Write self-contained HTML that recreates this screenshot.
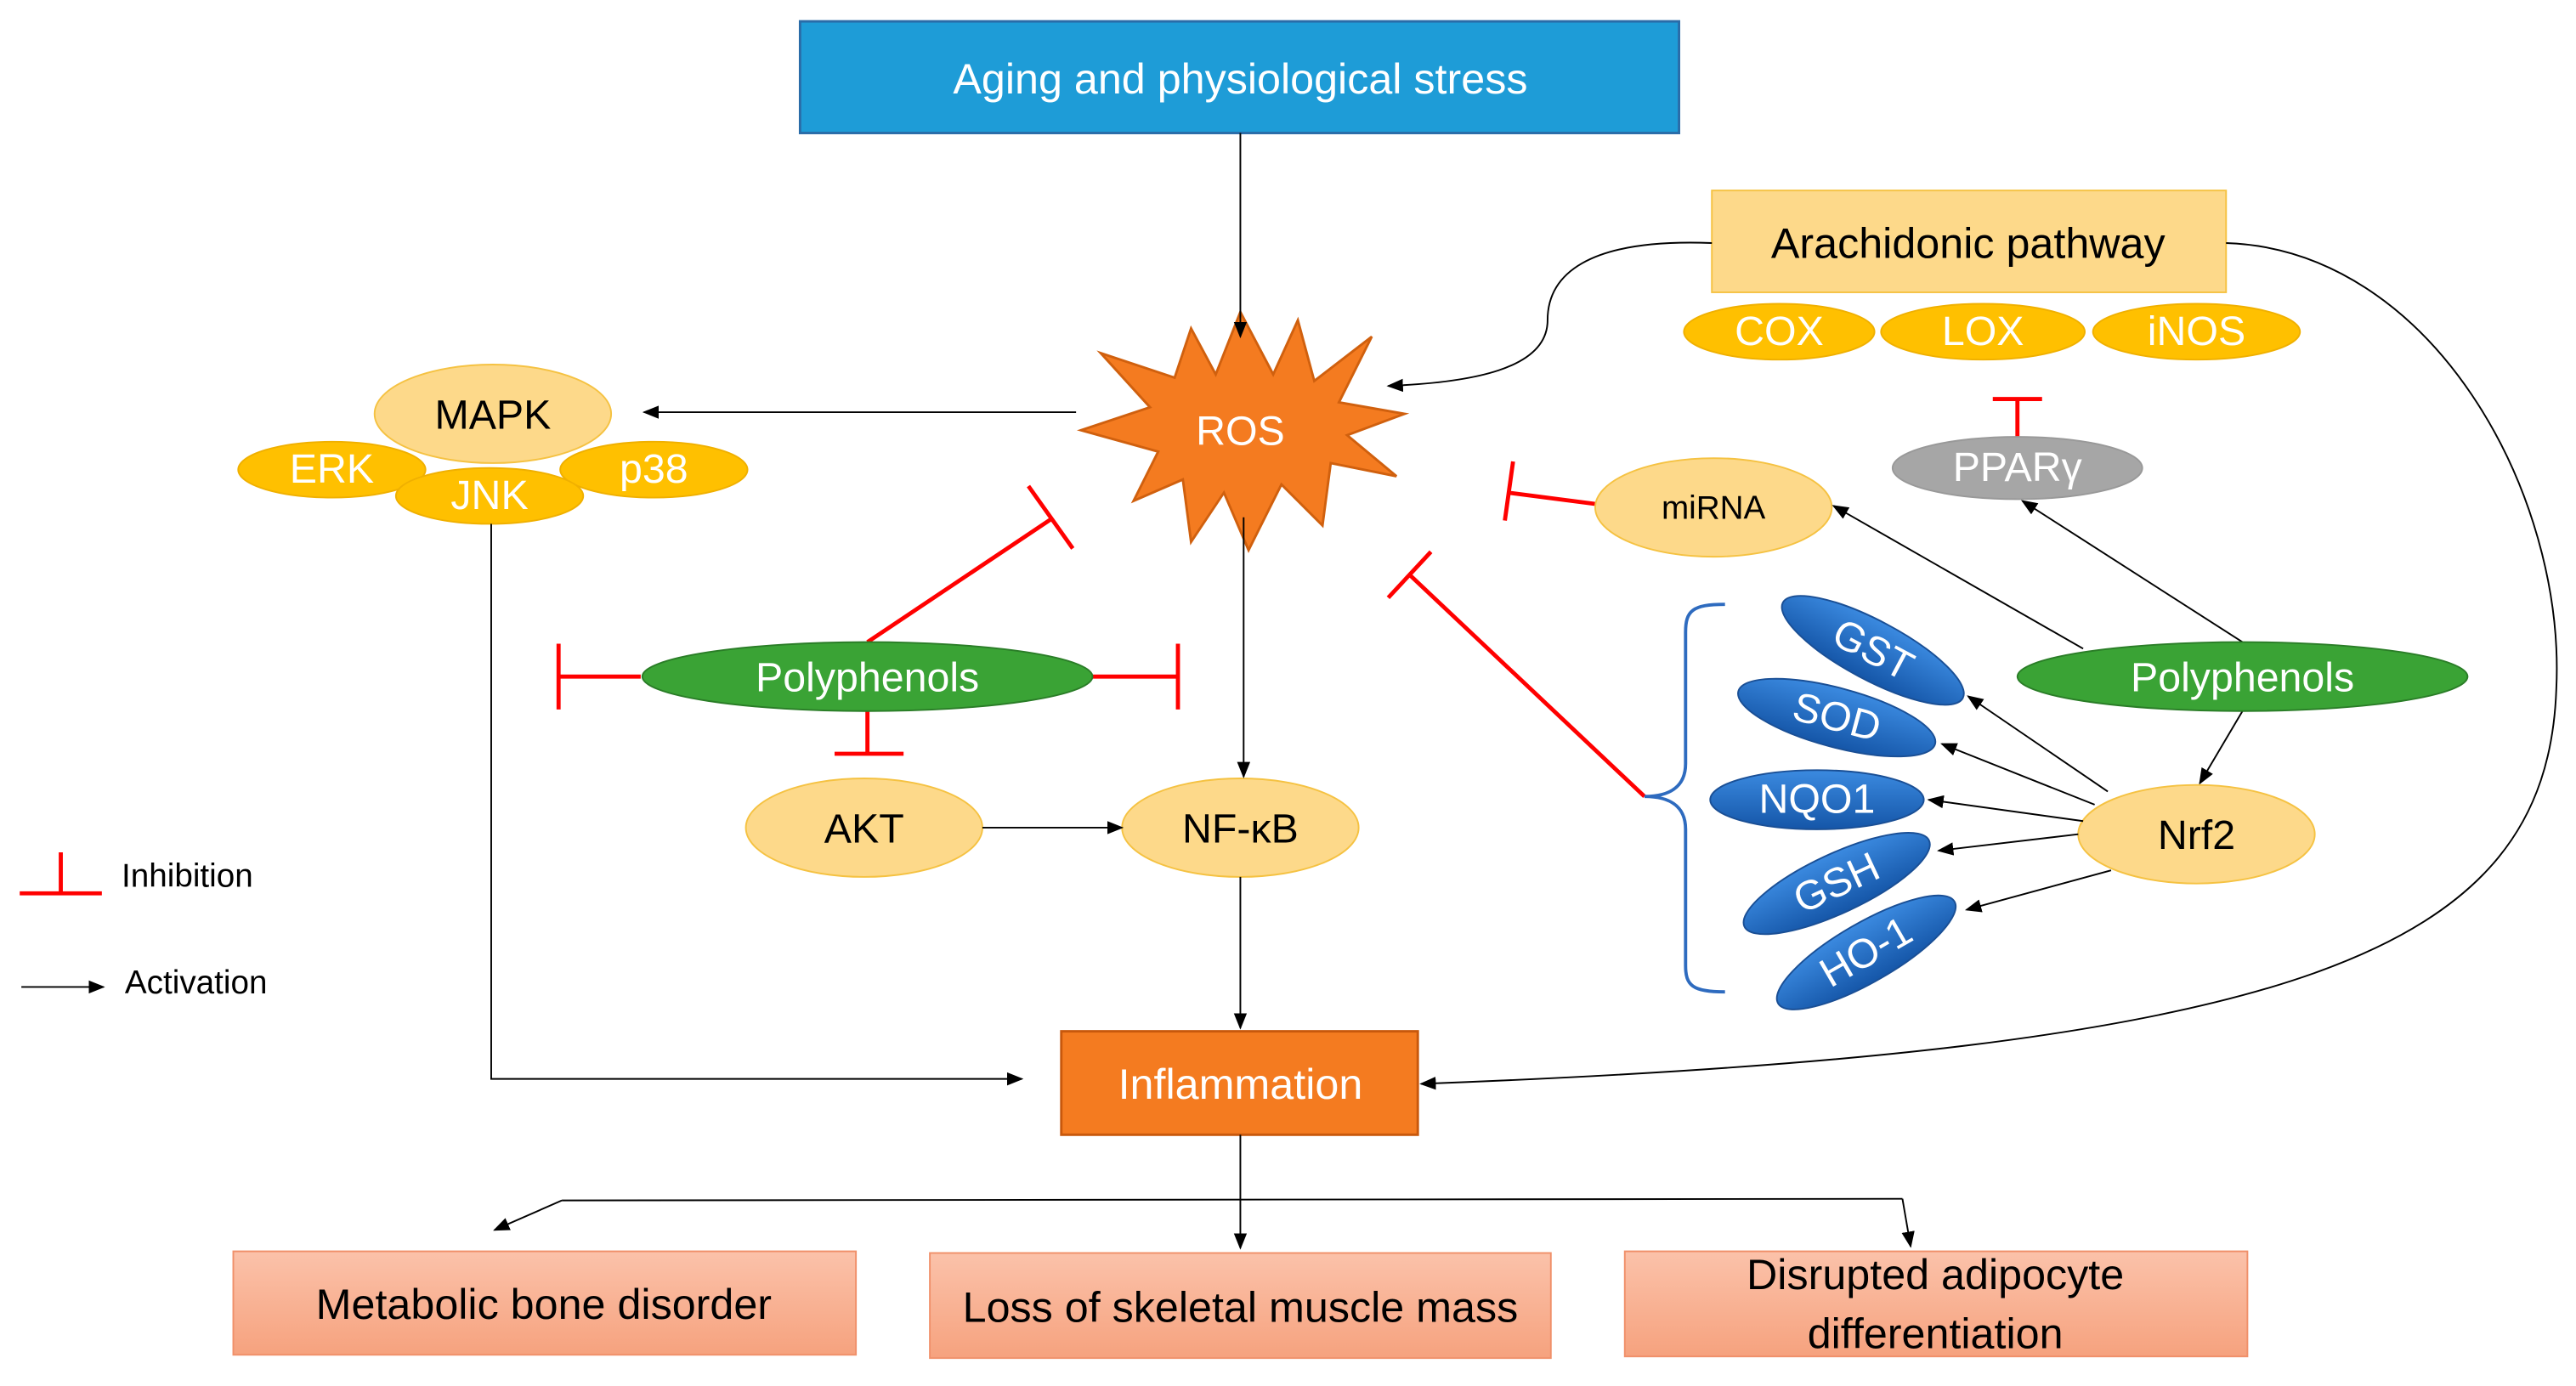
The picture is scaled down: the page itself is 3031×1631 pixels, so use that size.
<!DOCTYPE html>
<html><head><meta charset="utf-8"><style>
html,body{margin:0;padding:0;background:#fff;}
svg{display:block;}
text{font-family:"Liberation Sans",sans-serif;}
</style></head><body>
<svg width="3031" height="1631" viewBox="0 0 1568 844" preserveAspectRatio="none" xmlns="http://www.w3.org/2000/svg">
<defs>
<marker id="ar" markerWidth="10" markerHeight="8" refX="9" refY="4" orient="auto" markerUnits="userSpaceOnUse"><path d="M0,0 L10,4 L0,8 z" fill="#000"/></marker>
<linearGradient id="bl" x1="0" y1="0" x2="0" y2="1"><stop offset="0" stop-color="#3b8ae0"/><stop offset="1" stop-color="#1556a8"/></linearGradient>
<linearGradient id="sal" x1="0" y1="0" x2="0" y2="1"><stop offset="0" stop-color="#fbc2aa"/><stop offset="1" stop-color="#f6a27e"/></linearGradient>
</defs>
<g font-size="25">
<rect x="487" y="13" width="535" height="68" fill="#1e9cd7" stroke="#2a6ca8" stroke-width="1.5"/>
<text x="755" y="57" fill="#fff" text-anchor="middle" font-size="26">Aging and physiological stress</text>
<polygon points="755,190 775,228 790,195 800,232 835,205 815,245 855,252 820,265 850,290 810,282 805,320 780,295 760,335 745,300 725,330 720,292 690,305 705,275 658,262 700,248 670,215 715,230 725,200 740,228" fill="#f47b20" stroke="#d0600e" stroke-width="1.5"/>
<line x1="755" y1="81" x2="755" y2="205" stroke="#000" stroke-width="1" marker-end="url(#ar)"/>
<text x="755" y="271" fill="#fff" text-anchor="middle">ROS</text>
<line x1="655" y1="251" x2="392" y2="251" stroke="#000" stroke-width="1" marker-end="url(#ar)"/>
<ellipse cx="300" cy="252" rx="72" ry="30" fill="#fdd98a" stroke="#f5c242"/>
<text x="300" y="261" text-anchor="middle">MAPK</text>
<ellipse cx="202" cy="286" rx="57" ry="17" fill="#ffc000" stroke="#f0b000"/>
<text x="202" y="294" fill="#fff" text-anchor="middle">ERK</text>
<ellipse cx="398" cy="286" rx="57" ry="17" fill="#ffc000" stroke="#f0b000"/>
<text x="398" y="294" fill="#fff" text-anchor="middle">p38</text>
<ellipse cx="298" cy="302" rx="57" ry="17" fill="#ffc000" stroke="#f0b000"/>
<text x="298" y="310" fill="#fff" text-anchor="middle">JNK</text>
<polyline points="299,319 299,657 622,657" fill="none" stroke="#000" stroke-width="1" marker-end="url(#ar)"/>
<g stroke="#ff0000" stroke-width="2.5" fill="none">
<line x1="528" y1="391" x2="640" y2="316"/><line x1="626" y1="296" x2="653" y2="334"/>
<line x1="390" y1="412" x2="340" y2="412"/><line x1="340" y1="392" x2="340" y2="432"/>
<line x1="665" y1="412" x2="717" y2="412"/><line x1="717" y1="392" x2="717" y2="432"/>
<line x1="528" y1="433" x2="528" y2="459"/><line x1="508" y1="459" x2="550" y2="459"/>
</g>
<ellipse cx="528" cy="412" rx="137" ry="21" fill="#3aa335" stroke="#2a7d27"/>
<text x="528" y="421" fill="#fff" text-anchor="middle">Polyphenols</text>
<ellipse cx="526" cy="504" rx="72" ry="30" fill="#fdd98a" stroke="#f5c242"/>
<text x="526" y="513" text-anchor="middle">AKT</text>
<ellipse cx="755" cy="504" rx="72" ry="30" fill="#fdd98a" stroke="#f5c242"/>
<text x="755" y="513" text-anchor="middle">NF-κB</text>
<line x1="598" y1="504" x2="683" y2="504" stroke="#000" marker-end="url(#ar)"/>
<line x1="757" y1="315" x2="757" y2="473" stroke="#000" marker-end="url(#ar)"/>
<line x1="755" y1="534" x2="755" y2="626" stroke="#000" marker-end="url(#ar)"/>
<rect x="646" y="628" width="217" height="63" fill="#f47b20" stroke="#c8580c" stroke-width="1.5"/>
<text x="755" y="669" fill="#fff" text-anchor="middle" font-size="26">Inflammation</text>
<line x1="755" y1="691" x2="755" y2="760" stroke="#000" marker-end="url(#ar)"/>
<polyline points="342,731 1158,730" fill="none" stroke="#000"/>
<line x1="342" y1="731" x2="301" y2="749" stroke="#000" marker-end="url(#ar)"/>
<line x1="1158" y1="730" x2="1163" y2="759" stroke="#000" marker-end="url(#ar)"/>
<rect x="142" y="762" width="379" height="63" fill="url(#sal)" stroke="#f0906a"/>
<text x="331" y="803" text-anchor="middle" font-size="26">Metabolic bone disorder</text>
<rect x="566" y="763" width="378" height="64" fill="url(#sal)" stroke="#f0906a"/>
<text x="755" y="805" text-anchor="middle" font-size="26">Loss of skeletal muscle mass</text>
<rect x="989" y="762" width="379" height="64" fill="url(#sal)" stroke="#f0906a"/>
<text x="1178" y="785" text-anchor="middle" font-size="26">Disrupted adipocyte</text>
<text x="1178" y="821" text-anchor="middle" font-size="26">differentiation</text>
<rect x="1042" y="116" width="313" height="62" fill="#fdd98a" stroke="#f5c242"/>
<text x="1198" y="157" text-anchor="middle" font-size="26">Arachidonic pathway</text>
<ellipse cx="1083" cy="202" rx="58" ry="17" fill="#ffc000" stroke="#f0b000"/>
<text x="1083" y="210" fill="#fff" text-anchor="middle">COX</text>
<ellipse cx="1207" cy="202" rx="62" ry="17" fill="#ffc000" stroke="#f0b000"/>
<text x="1207" y="210" fill="#fff" text-anchor="middle">LOX</text>
<ellipse cx="1337" cy="202" rx="63" ry="17" fill="#ffc000" stroke="#f0b000"/>
<text x="1337" y="210" fill="#fff" text-anchor="middle">iNOS</text>
<path d="M1042,148 C965,145 942,168 942,195 C942,225 895,233 845,235" fill="none" stroke="#000" marker-end="url(#ar)"/>
<path d="M1355,148 C1480,152 1562,300 1556,420 C1550,580 1400,640 865,660" fill="none" stroke="#000" marker-end="url(#ar)"/>
<g stroke="#ff0000" stroke-width="2.5"><line x1="1228" y1="266" x2="1228" y2="243"/><line x1="1213" y1="243" x2="1243" y2="243"/>
<line x1="972" y1="307" x2="918" y2="300"/><line x1="921" y1="281" x2="916" y2="317"/>
<line x1="1001" y1="485" x2="858" y2="350"/><line x1="845" y1="364" x2="871" y2="336"/></g>
<ellipse cx="1228" cy="285" rx="76" ry="19" fill="#a6a6a6" stroke="#999"/>
<text x="1228" y="293" fill="#fff" text-anchor="middle">PPARγ</text>
<ellipse cx="1043" cy="309" rx="72" ry="30" fill="#fdd98a" stroke="#f5c242"/>
<text x="1043" y="316" font-size="20" text-anchor="middle">miRNA</text>
<line x1="1268" y1="395" x2="1116" y2="308" stroke="#000" marker-end="url(#ar)"/>
<line x1="1365" y1="391" x2="1231" y2="305" stroke="#000" marker-end="url(#ar)"/>
<line x1="1365" y1="433" x2="1339" y2="477" stroke="#000" marker-end="url(#ar)"/>
<ellipse cx="1365" cy="412" rx="137" ry="21" fill="#3aa335" stroke="#2a7d27"/>
<text x="1365" y="421" fill="#fff" text-anchor="middle">Polyphenols</text>
<ellipse cx="1337" cy="508" rx="72" ry="30" fill="#fdd98a" stroke="#f5c242"/>
<text x="1337" y="517" text-anchor="middle">Nrf2</text>
<g fill="url(#bl)" stroke="#1a4f95">
<ellipse cx="1140" cy="396" rx="62" ry="18" transform="rotate(28 1140 396)"/>
<ellipse cx="1118" cy="437" rx="62" ry="18" transform="rotate(15 1118 437)"/>
<ellipse cx="1106" cy="487" rx="65" ry="18"/>
<ellipse cx="1118" cy="538" rx="62" ry="18" transform="rotate(-25 1118 538)"/>
<ellipse cx="1136" cy="580" rx="62" ry="18" transform="rotate(-30 1136 580)"/>
</g>
<g fill="#fff" text-anchor="middle">
<text x="1140" y="404" transform="rotate(28 1140 396)">GST</text>
<text x="1118" y="445" transform="rotate(15 1118 437)">SOD</text>
<text x="1106" y="495">NQO1</text>
<text x="1118" y="546" transform="rotate(-25 1118 538)">GSH</text>
<text x="1136" y="588" transform="rotate(-30 1136 580)">HO-1</text>
</g>
<g stroke="#000" marker-end="url(#ar)">
<line x1="1283" y1="482" x2="1198" y2="424"/>
<line x1="1275" y1="490" x2="1182" y2="453"/>
<line x1="1268" y1="500" x2="1174" y2="487"/>
<line x1="1265" y1="508" x2="1180" y2="518"/>
<line x1="1285" y1="530" x2="1197" y2="554"/>
</g>
<path d="M1050,368 C1030,368 1026,372 1026,385 L1026,465 C1026,480 1015,485 1001,485 C1015,485 1026,490 1026,505 L1026,588 C1026,600 1030,604 1050,604" fill="none" stroke="#2e6bbf" stroke-width="2"/>
<g stroke="#ff0000" stroke-width="2.5"><line x1="12" y1="544" x2="62" y2="544"/><line x1="37" y1="519" x2="37" y2="544"/></g>
<text x="74" y="540" font-size="20">Inhibition</text>
<line x1="13" y1="601" x2="63" y2="601" stroke="#000" marker-end="url(#ar)"/>
<text x="76" y="605" font-size="20">Activation</text>
</g>
</svg>
</body></html>
